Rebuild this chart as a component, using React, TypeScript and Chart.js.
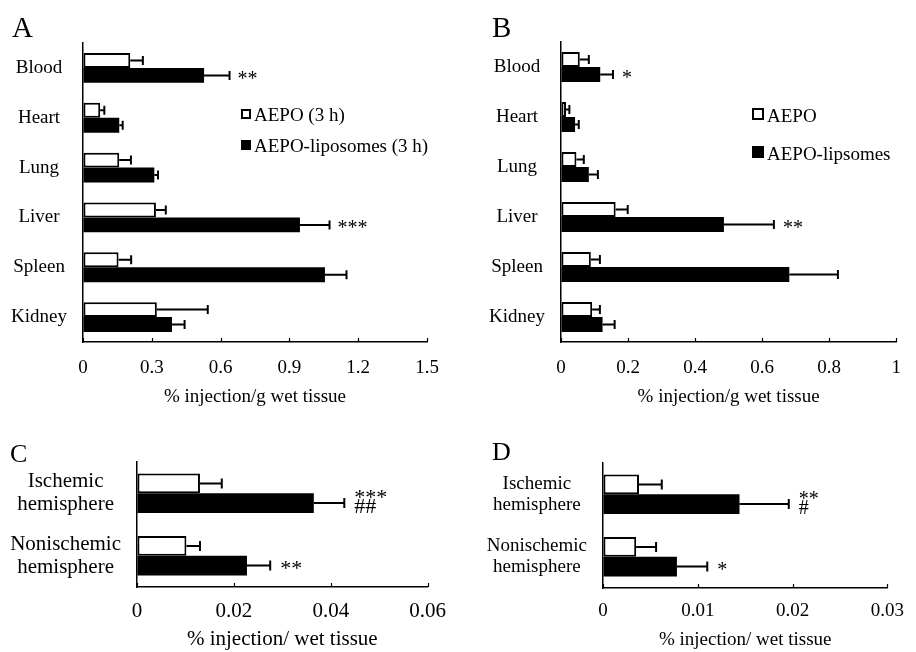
import React, { useEffect, useRef } from 'react';
import { Chart, registerables } from 'chart.js';

Chart.register(...registerables);

const SERIF = "'Liberation Serif', 'Times New Roman', Times, serif";

// ---------- Panels A and B: tissue distribution ----------
const tissues = ['Blood', 'Heart', 'Lung', 'Liver', 'Spleen', 'Kidney'];

// Panel A (3 h)
const aepoA = [0.206, 0.075, 0.158, 0.318, 0.155, 0.322];
const aepoAErr = [0.055, 0.018, 0.051, 0.043, 0.055, 0.222];
const lipoA = [0.528, 0.158, 0.311, 0.946, 1.055, 0.388];
const lipoAErr = [0.111, 0.015, 0.016, 0.129, 0.094, 0.055];
const starsA = ['**', '', '', '***', '', ''];
const hashA = ['', '', '', '', '', ''];
const ticksA = ['0', '0.3', '0.6', '0.9', '1.2', '1.5'];
const legendA = ['AEPO (3 h)', 'AEPO-liposomes (3 h)'];

// Panel B
const aepoB = [0.056, 0.015, 0.046, 0.163, 0.089, 0.093];
const aepoBErr = [0.027, 0.01, 0.022, 0.036, 0.027, 0.023];
const lipoB = [0.117, 0.042, 0.083, 0.486, 0.681, 0.124];
const lipoBErr = [0.038, 0.011, 0.027, 0.149, 0.145, 0.036];
const starsB = ['*', '', '', '**', '', ''];
const hashB = ['', '', '', '', '', ''];
const ticksB = ['0', '0.2', '0.4', '0.6', '0.8', '1'];
const legendB = ['AEPO', 'AEPO-lipsomes'];

const xTitleAB = '% injection/g wet tissue';

// ---------- Panels C and D: brain hemispheres ----------
const hemispheres = [
  ['Ischemic', 'hemisphere'],
  ['Nonischemic', 'hemisphere'],
];

const aepoC = [0.013, 0.0102];
const aepoCErr = [0.0045, 0.0028];
const lipoC = [0.0365, 0.0227];
const lipoCErr = [0.0063, 0.0048];
const starsC = ['***', '**'];
const hashC = ['##', ''];
const ticksC = ['0', '0.02', '0.04', '0.06'];

const aepoD = [0.0038, 0.0035];
const aepoDErr = [0.0024, 0.0021];
const lipoD = [0.0144, 0.0078];
const lipoDErr = [0.0052, 0.0032];
const starsD = ['**', '*'];
const hashD = ['#', ''];
const ticksD = ['0', '0.01', '0.02', '0.03'];

const xTitleCD = '% injection/ wet tissue';

type Panel = {
  letter: string;
  labels: any[];
  aepo: number[];
  aepoErr: number[];
  lipo: number[];
  lipoErr: number[];
  stars: string[];
  hashes: string[];
  max: number;
  step: number;
  ticks: string[];
  title: string;
  legend: string[] | null;
  // presentation
  box: { left: number; top: number; width: number; height: number };
  pad: { top: number; right: number; bottom: number; left: number };
  yWidth: number;
  xHeight: number;
  font: number;
  tickPad: number;
  titlePad: number;
  catPct: number;
  letterSize: number;
  letterPos: [number, number];
  legendPos: { x: number; y: number; dy: number; marker: number; gap: number };
  starGap: number;
  errW: number;
  cap: number;
};

const panels: Panel[] = [
  {
    letter: 'A', labels: tissues, aepo: aepoA, aepoErr: aepoAErr, lipo: lipoA, lipoErr: lipoAErr,
    stars: starsA, hashes: hashA, max: 1.5, step: 0.3, ticks: ticksA, title: xTitleAB, legend: legendA,
    box: { left: 0, top: 0, width: 458, height: 420 },
    pad: { top: 43, right: 31, bottom: 0, left: 0 },
    yWidth: 83, xHeight: 78, font: 19, tickPad: 15, titlePad: 12, catPct: 0.6,
    letterSize: 29, letterPos: [12, 37],
    legendPos: { x: 241, y: 121, dy: 31, marker: 10, gap: 3 },
    starGap: 8, errW: 2, cap: 4.5,
  },
  {
    letter: 'B', labels: tissues, aepo: aepoB, aepoErr: aepoBErr, lipo: lipoB, lipoErr: lipoBErr,
    stars: starsB, hashes: hashB, max: 1, step: 0.2, ticks: ticksB, title: xTitleAB, legend: legendB,
    box: { left: 458, top: 0, width: 458, height: 420 },
    pad: { top: 42, right: 10, bottom: 0, left: 0 },
    yWidth: 103, xHeight: 78, font: 19, tickPad: 15, titlePad: 12, catPct: 0.6,
    letterSize: 29, letterPos: [34, 37],
    legendPos: { x: 294, y: 122, dy: 38, marker: 12, gap: 3 },
    starGap: 9, errW: 2, cap: 4.5,
  },
  {
    letter: 'C', labels: hemispheres, aepo: aepoC, aepoErr: aepoCErr, lipo: lipoC, lipoErr: lipoCErr,
    stars: starsC, hashes: hashC, max: 0.06, step: 0.02, ticks: ticksC, title: xTitleCD, legend: null,
    box: { left: 0, top: 420, width: 458, height: 232 },
    pad: { top: 42, right: 19, bottom: 0, left: 0 },
    yWidth: 137, xHeight: 65, font: 21, tickPad: 12, titlePad: 0, catPct: 0.63,
    letterSize: 26, letterPos: [10, 42],
    legendPos: { x: 0, y: 0, dy: 0, marker: 0, gap: 0 },
    starGap: 10, errW: 2, cap: 5,
  },
  {
    letter: 'D', labels: hemispheres, aepo: aepoD, aepoErr: aepoDErr, lipo: lipoD, lipoErr: lipoDErr,
    stars: starsD, hashes: hashD, max: 0.03, step: 0.01, ticks: ticksD, title: xTitleCD, legend: null,
    box: { left: 458, top: 420, width: 458, height: 232 },
    pad: { top: 43, right: 17, bottom: 0, left: 0 },
    yWidth: 145, xHeight: 64, font: 19, tickPad: 12, titlePad: 1, catPct: 0.63,
    letterSize: 26, letterPos: [34, 40],
    legendPos: { x: 0, y: 0, dy: 0, marker: 0, gap: 0 },
    starGap: 10, errW: 2, cap: 5,
  },
];

function makeDecor(p: Panel) {
  return {
    id: 'decor' + p.letter,
    afterDatasetsDraw(chart: any) {
      const ctx = chart.ctx as CanvasRenderingContext2D;
      const xs = chart.scales.x;
      const errs = [p.aepoErr, p.lipoErr];
      ctx.save();
      ctx.strokeStyle = '#000';
      ctx.fillStyle = '#000';
      ctx.lineWidth = p.errW;
      // error bars
      chart.data.datasets.forEach((ds: any, d: number) => {
        const meta = chart.getDatasetMeta(d);
        meta.data.forEach((el: any, i: number) => {
          const end = xs.getPixelForValue(ds.data[i] + errs[d][i]);
          const cy = el.y;
          ctx.beginPath();
          ctx.moveTo(el.x, cy);
          ctx.lineTo(end, cy);
          ctx.moveTo(end, cy - p.cap);
          ctx.lineTo(end, cy + p.cap);
          ctx.stroke();
        });
      });
      // significance marks on liposome series
      const lm = chart.getDatasetMeta(1);
      ctx.font = `${p.font + 1}px ${SERIF}`;
      ctx.textAlign = 'left';
      ctx.textBaseline = 'alphabetic';
      lm.data.forEach((el: any, i: number) => {
        const end = xs.getPixelForValue(p.lipo[i] + p.lipoErr[i]);
        const sx = end + p.starGap;
        if (p.hashes[i]) {
          if (p.stars[i]) ctx.fillText(p.stars[i], sx, el.y + 1);
          ctx.fillText(p.hashes[i], sx, el.y + 10);
        } else if (p.stars[i]) {
          ctx.fillText(p.stars[i], sx, el.y + 9.5);
        }
      });
      // inward x tick marks
      ctx.lineWidth = 1.2;
      const yb = chart.chartArea.bottom;
      xs.ticks.forEach((t: any) => {
        const px = Math.round(xs.getPixelForValue(t.value)) + 0.5;
        ctx.beginPath();
        ctx.moveTo(px, yb);
        ctx.lineTo(px, yb - 4);
        ctx.stroke();
      });
      // panel letter
      ctx.font = `${p.letterSize}px ${SERIF}`;
      ctx.fillText(p.letter, p.letterPos[0], p.letterPos[1]);
      // legend
      if (p.legend) {
        const L = p.legendPos;
        ctx.font = `${p.font}px ${SERIF}`;
        p.legend.forEach((txt, k) => {
          const by = L.y + k * L.dy;
          const top = by - L.marker - 2;
          if (k === 0) {
            ctx.fillStyle = '#fff';
            ctx.fillRect(L.x, top, L.marker, L.marker);
            ctx.lineWidth = 2;
            ctx.strokeRect(L.x + 1, top + 1, L.marker - 2, L.marker - 2);
          } else {
            ctx.fillStyle = '#000';
            ctx.fillRect(L.x, top, L.marker, L.marker);
          }
          ctx.fillStyle = '#000';
          ctx.fillText(txt, L.x + L.marker + L.gap, by);
        });
      }
      ctx.restore();
    },
  };
}

function PanelChart({ p }: { p: Panel }) {
  const ref = useRef<HTMLCanvasElement | null>(null);
  useEffect(() => {
    if (!ref.current) return;
    const font = { family: SERIF, size: p.font, lineHeight: 1.1 };
    const chart = new Chart(ref.current, {
      type: 'bar',
      data: {
        labels: p.labels,
        datasets: [
          {
            label: p.legend ? p.legend[0] : 'AEPO',
            data: p.aepo,
            backgroundColor: '#ffffff',
            borderColor: '#000000',
            borderWidth: 2,
            borderSkipped: false,
            categoryPercentage: p.catPct,
            barPercentage: 1,
          },
          {
            label: p.legend ? p.legend[1] : 'AEPO-liposomes',
            data: p.lipo,
            backgroundColor: '#000000',
            borderColor: '#000000',
            borderWidth: 0,
            categoryPercentage: p.catPct,
            barPercentage: 1,
          },
        ],
      },
      options: {
        indexAxis: 'y',
        animation: false,
        responsive: false,
        devicePixelRatio: 1,
        layout: { padding: p.pad },
        plugins: {
          legend: { display: false },
          tooltip: { enabled: false },
          title: { display: false },
        },
        scales: {
          x: {
            type: 'linear',
            min: 0,
            max: p.max,
            afterFit: (s: any) => { s.height = p.xHeight; },
            afterBuildTicks: (s: any) => {
              s.ticks = p.ticks.map((_, i) => ({ value: i * p.step }));
            },
            ticks: {
              color: '#000',
              font: { family: SERIF, size: p.font },
              padding: p.tickPad,
              maxRotation: 0,
              autoSkip: false,
              callback: (_v: any, i: number) => p.ticks[i],
            },
            grid: { drawOnChartArea: false, drawTicks: false, color: 'rgba(0,0,0,0)' },
            border: { display: true, color: '#000', width: 1.5 },
            title: {
              display: true,
              text: p.title,
              color: '#000',
              font: { family: SERIF, size: p.font },
              padding: { top: 0, bottom: p.titlePad },
            },
          },
          y: {
            type: 'category',
            afterFit: (s: any) => { s.width = p.yWidth; },
            ticks: {
              color: '#000',
              font,
              padding: 16,
              crossAlign: 'center',
              autoSkip: false,
            },
            grid: { drawOnChartArea: false, drawTicks: false, color: 'rgba(0,0,0,0)' },
            border: { display: true, color: '#000', width: 1.5 },
          },
        },
      } as any,
      plugins: [makeDecor(p)],
    });
    return () => chart.destroy();
  }, [p]);
  return (
    <canvas
      ref={ref}
      width={p.box.width}
      height={p.box.height}
      style={{
        position: 'absolute',
        left: p.box.left,
        top: p.box.top,
        width: p.box.width,
        height: p.box.height,
      }}
    />
  );
}

export default function App() {
  return (
    <div
      style={{
        position: 'absolute',
        left: 0,
        top: 0,
        width: 916,
        height: 652,
        background: '#fff',
        overflow: 'hidden',
      }}
    >
      {panels.map((p) => (
        <PanelChart key={p.letter} p={p} />
      ))}
    </div>
  );
}
